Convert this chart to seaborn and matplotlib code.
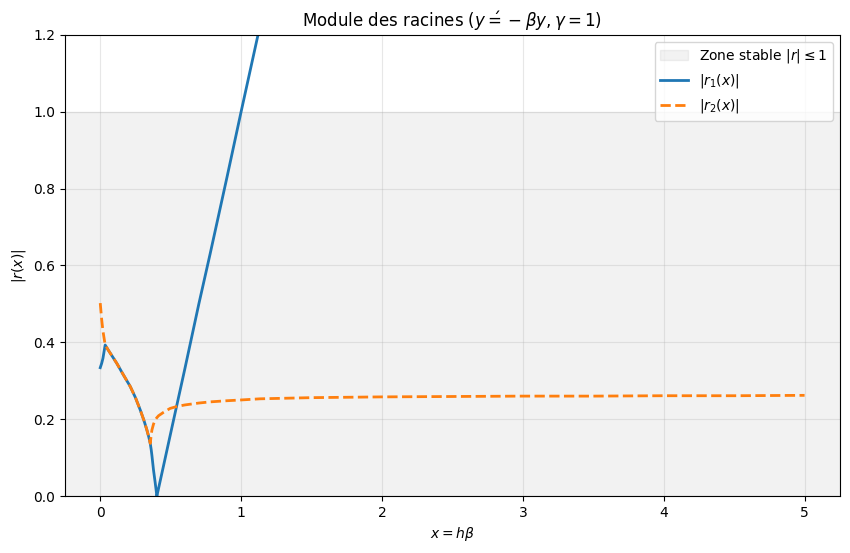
import matplotlib
matplotlib.use("Agg")
import matplotlib.pyplot as plt
import seaborn as sns
import numpy as np

# values
x_vals = [0.0, 0.01, 0.019, 0.035, 0.06, 0.09, 0.118, 0.16, 0.213, 0.25, 0.284,
          0.31, 0.331, 0.345, 0.355, 0.362, 0.367, 0.378, 0.39, 0.402, 0.414,
          0.45, 0.496, 0.544, 0.6, 0.7, 0.78, 0.9, 1.0, 1.135, 1.5, 2.0, 2.5,
          3.0, 3.5, 4.0, 4.5, 5.0]
r1_vals = [0.334, 0.345, 0.358, 0.393, 0.378, 0.361, 0.345, 0.318, 0.285, 0.256, 0.224,
           0.197, 0.172, 0.153, 0.137, 0.120, 0.105, 0.068, 0.035, 0.0, 0.02,
           0.08, 0.157, 0.237, 0.33, 0.50, 0.63, 0.83, 1.0, 1.225, 1.83, 2.67, 3.5,
           4.33, 5.17, 6.0, 6.83, 7.67]
r2_vals = [0.502, 0.46, 0.43, 0.393, 0.378, 0.361, 0.345, 0.318, 0.285, 0.256, 0.224,
           0.197, 0.172, 0.153, 0.137, 0.160, 0.172, 0.187, 0.198, 0.204, 0.209,
           0.218, 0.228, 0.233, 0.237, 0.242, 0.245, 0.248, 0.250, 0.253, 0.256, 0.258, 0.259,
           0.260, 0.260, 0.261, 0.261, 0.262]

fig, ax = plt.subplots(figsize=(8.5, 5.53), dpi=100)
ax.axhspan(0, 1, color="gray", alpha=0.1, label=r"Zone stable $|r|\leq 1$")
sns.lineplot(x=x_vals, y=r1_vals, ax=ax, color="#1f77b4", linewidth=2,
             label=r"$|r_1(x)|$", sort=False)
sns.lineplot(x=x_vals, y=r2_vals, ax=ax, color="#ff7f0e", linewidth=2,
             linestyle="--", label=r"$|r_2(x)|$", sort=False)
ax.set_xlim(-0.25, 5.25)
ax.set_ylim(0, 1.2)
ax.set_xlabel(r"$x = h\beta$")
ax.set_ylabel(r"$|r(x)|$")
ax.set_title(r"Module des racines ($y\'={}-\beta y, \gamma = 1$)")
ax.grid(True, alpha=0.3)
ax.legend(loc="upper right")
fig.subplots_adjust(left=0.0765, right=0.988, top=0.937, bottom=0.103)
plt.savefig("out.png")
